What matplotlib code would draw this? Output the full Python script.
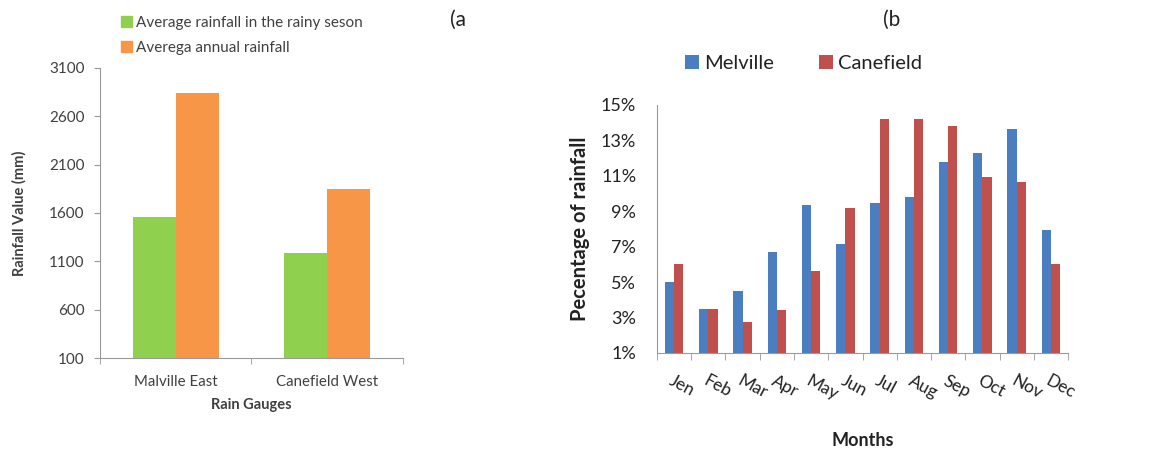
import numpy as np
import matplotlib
matplotlib.use("Agg")
import matplotlib.pyplot as plt
from matplotlib.ticker import FuncFormatter, FixedLocator
from matplotlib.patches import Patch

plt.rcParams["font.family"] = ["Lato", "DejaVu Sans"]

# panel (a): rain gauge averages
gauges = ["Malville East", "Canefield West"]
rainy_season = [1560, 1190]
annual = [2840, 1845]

# panel (b): monthly share of rainfall (%)
months = ["Jen", "Feb", "Mar", "Apr", "May", "Jun", "Jul", "Aug", "Sep", "Oct", "Nov", "Dec"]
melville = [5.0, 3.5, 4.5, 6.7, 9.35, 7.15, 9.45, 9.8, 11.8, 12.3, 13.65, 7.95]
canefield = [6.0, 3.5, 2.75, 3.45, 5.6, 9.2, 14.2, 14.2, 13.8, 10.95, 10.65, 6.05]

C_GREEN = "#8FD14F"
C_ORANGE = "#F79646"
C_BLUE = "#4A7EC0"
C_RED = "#C0504D"
C_AXIS = "#999999"
C_TEXT = "#404040"

fig = plt.figure(figsize=(11.53, 4.5), dpi=100)

# ---- (a)
ax = fig.add_axes([0.0867, 0.2044, 0.2628, 0.6446])
x = np.arange(len(gauges))
w = 0.285
ax.bar(x - w / 2, np.array(rainy_season) - 100, w, bottom=100, color=C_GREEN)
ax.bar(x + w / 2, np.array(annual) - 100, w, bottom=100, color=C_ORANGE)
ax.set_xlim(-0.5, 1.5)
ax.set_ylim(100, 3100)
ax.set_yticks(range(100, 3101, 500))
ax.set_xticks(x)
ax.set_xticklabels(gauges, fontsize=10.8, color=C_TEXT)
ax.xaxis.set_minor_locator(FixedLocator([-0.5, 0.5, 1.5]))
ax.tick_params(axis="x", which="major", length=0, pad=12)
ax.tick_params(axis="x", which="minor", length=4, color=C_AXIS)
ax.tick_params(axis="y", labelsize=11, labelcolor=C_TEXT, length=4, color=C_AXIS, pad=7)
ax.set_ylabel("Rainfall Value (mm)", fontsize=10.5, fontweight="bold", color=C_TEXT, labelpad=16)
ax.set_xlabel("Rain Gauges", fontsize=10.5, fontweight="bold", color=C_TEXT, labelpad=7)
for s in ("top", "right"):
    ax.spines[s].set_visible(False)
for s in ("left", "bottom"):
    ax.spines[s].set_color(C_AXIS)
fig.legend(handles=[Patch(color=C_GREEN, label="Average rainfall in the rainy seson"),
                    Patch(color=C_ORANGE, label="Averega annual rainfall")],
           loc="upper left", bbox_to_anchor=(0.093, 0.995), frameon=False, fontsize=11,
           handlelength=0.7, handleheight=0.7, handletextpad=0.3, labelspacing=0.7,
           labelcolor=C_TEXT)
fig.text(0.39, 0.955, "(a", fontsize=15, ha="left", va="center", color="#222222")

# ---- (b)
bx = fig.add_axes([0.5698, 0.2156, 0.3565, 0.5511])
m = np.arange(len(months))
w2 = 0.27
bx.bar(m - w2 / 2, np.array(melville) - 1, w2, bottom=1, color=C_BLUE, label="Melville")
bx.bar(m + w2 / 2, np.array(canefield) - 1, w2, bottom=1, color=C_RED, label="Canefield")
bx.set_xlim(-0.5, len(months) - 0.5)
bx.set_ylim(1, 15)
bx.set_yticks(range(1, 16, 2))
bx.yaxis.set_major_formatter(FuncFormatter(lambda v, _p: f"{v:.0f}%"))
bx.tick_params(axis="y", labelsize=13, labelcolor="#222222", length=0, pad=15)
bx.set_xticks(m)
bx.set_xticklabels(months, fontsize=12.5, color="#222222", rotation=-28,
                   ha="left", va="top", rotation_mode="anchor")
bx.xaxis.set_minor_locator(FixedLocator(np.arange(-0.5, len(months), 1.0)))
bx.tick_params(axis="x", which="major", length=0, pad=14)
bx.tick_params(axis="x", which="minor", length=5, color=C_AXIS)
bx.set_ylabel("Pecentage of rainfall", fontsize=14.5, fontweight="bold", color="#222222", labelpad=8)
bx.set_xlabel("Months", fontsize=13, fontweight="bold", color="#222222", labelpad=21)
for s in ("top", "right"):
    bx.spines[s].set_visible(False)
for s in ("left", "bottom"):
    bx.spines[s].set_color(C_AXIS)
bx.legend(loc="lower left", bbox_to_anchor=(0.025, 1.06), ncol=2, frameon=False, fontsize=14.5,
          handlelength=0.7, handleheight=0.7, handletextpad=0.25, columnspacing=2.2,
          labelcolor="#222222")
fig.text(0.766, 0.955, "(b", fontsize=15, ha="left", va="center", color="#222222")

fig.savefig("out.png", dpi=100)
